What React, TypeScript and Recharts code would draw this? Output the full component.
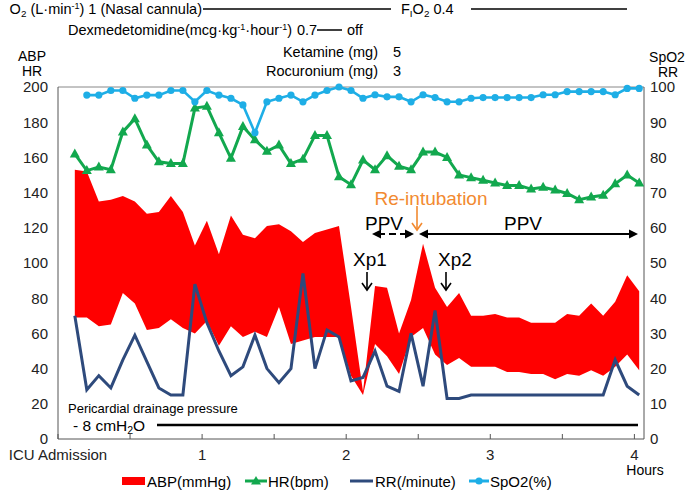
import React from 'react';
import { ComposedChart, Area, Line, XAxis, YAxis, ReferenceLine } from 'recharts';

// minutes after ICU admission, one reading every 5 min
const minutes = [7, 12, 17, 22, 27, 32, 37, 42, 47, 52, 57, 62, 67, 72, 77, 82, 87, 92, 97, 102, 107, 112, 117, 122,
  127, 132, 137, 142, 147, 152, 157, 162, 167, 172, 177, 182, 187, 192, 197, 202, 207, 212, 217, 222, 227, 232, 237, 242];

const abpSys = [153, 152, 135, 136, 138, 135, 128, 129, 138, 129, 110, 124, 105, 127, 116, 114, 121, 122, 118, 112, 117, 119, 121, 75,
  27, 87, 86, 60, 79, 111, 86, 75, 83, 70, 70, 71, 69, 69, 66, 66, 66, 71, 70, 77, 70, 78, 93, 84];
const abpDia = [69, 69, 64, 65, 83, 77, 62, 63, 68, 63, 60, 67, 53, 64, 58, 61, 58, 75, 54, 56, 58, 58, 58, 36,
  25, 54, 47, 37, 58, 63, 48, 42, 46, 41, 41, 41, 38, 38, 37, 37, 34, 37, 36, 39, 36, 41, 48, 39];
const hr = [162, 152.5, 154.5, 153, 174.5, 182, 167, 157.5, 156.5, 156.5, 188, 189, 174, 159.5, 177.5, 170, 163.5, 167, 156.5, 159, 172.5, 172.5, 149, 144.5,
  158.5, 153, 161, 155, 153, 163, 163, 160, 150, 148.5, 147, 145.5, 144, 144, 142, 143, 141.5, 139.5, 136, 137.5, 138.5, 145, 150, 145.5];
const rr = [35, 14, 18, 14.5, 22.5, 29.5, 22, 14.5, 12.5, 12.5, 44, 33, 25, 18, 20.5, 29.5, 20, 16, 20, 47, 20, 31, 29, 16.5,
  17.5, 25, 15, 13.5, 30, 15, 36.5, 11.5, 11.5, 12.5, 12.5, 12.5, 12.5, 12.5, 12.5, 12.5, 12.5, 12.5, 12.5, 12.5, 12.5, 22.5, 15, 12.5];
const spo2 = [null, 97.7, 97.7, 99, 99, 96.8, 97.7, 97.7, 99, 99, 95.8, 99, 97.7, 96.8, 94.9, 87, 95.8, 96.8, 97.7, 95.8, 97.7, 99, 100, 99,
  96.8, 97.8, 97.2, 97.2, 95.8, 97.8, 97, 95.8, 95.8, 96.8, 97, 97, 97, 97, 97, 97.8, 97.8, 98.7, 98.7, 98.7, 98.7, 97.8, 99.6, 99.6];

const leftTicks = [0, 20, 40, 60, 80, 100, 120, 140, 160, 180, 200];
const rightTicks = [0, 10, 20, 30, 40, 50, 60, 70, 80, 90, 100];
const hourTicks = [0, 30, 60, 90, 120, 150, 180, 210, 240];
const hourLabels: Record<number, string> = { 0: 'ICU Admission', 60: '1', 120: '2', 180: '3', 240: '4' };

const data = minutes.map((m, i) => ({
  m,
  abp: [abpDia[i], abpSys[i]],
  hr: hr[i],
  rr: rr[i],
  spo2: spo2[i],
}));

const FONT = '"Liberation Sans", Arial, Helvetica, sans-serif';
const RED = '#FF0000';
const GREEN = '#12A84E';
const NAVY = '#2E4A7C';
const SKY = '#1EAEE6';
const ORANGE = '#F28A30';

const TriDot = (p: any) => {
  const { cx, cy, index } = p;
  if (cx == null || cy == null) return <g key={index} />;
  return <path key={index} d={`M${cx},${cy - 5.5}L${cx + 5},${cy + 3.5}L${cx - 5},${cy + 3.5}Z`} fill={GREEN} />;
};

const CircleDot = (p: any) => {
  const { cx, cy, index } = p;
  if (cx == null || cy == null) return <g key={index} />;
  return <circle key={index} cx={cx} cy={cy} r={3.6} fill={SKY} />;
};

const HourTick = (p: any) => {
  const { x, y, payload } = p;
  const label = hourLabels[payload.value] || '';
  return (
    <text x={x} y={y + 16} textAnchor="middle" fontSize={15} fontFamily={FONT} fill="#222">{label}</text>
  );
};

const T = ({ x, y, size = 14.5, anchor = 'start', color = '#000', children }: any) => {
  const tx = anchor === 'middle' ? '-50%' : anchor === 'end' ? '-100%' : '0';
  return (
    <div style={{
      position: 'absolute', left: x, top: y, transform: `translate(${tx}, -50%)`,
      fontSize: size, lineHeight: 1, whiteSpace: 'nowrap', color, fontFamily: FONT,
    }}>{children}</div>
  );
};

const Sub = ({ children }: any) => <span style={{ fontSize: '0.68em', verticalAlign: '-0.3em', lineHeight: 0 }}>{children}</span>;
const Sup = ({ children }: any) => <span style={{ fontSize: '0.62em', verticalAlign: '0.55em', lineHeight: 0 }}>{children}</span>;

const DownArrow = ({ x, y1, y2, color }: any) => (
  <g stroke={color} strokeWidth={1.6} fill="none">
    <line x1={x} y1={y1} x2={x} y2={y2} />
    <polyline points={`${x - 5},${y2 - 7} ${x},${y2} ${x + 5},${y2 - 7}`} />
  </g>
);

const Head = ({ x, y, dir }: any) => (
  <path d={`M${x},${y}L${x - dir * 9},${y - 4.5}L${x - dir * 9},${y + 4.5}Z`} fill="#000" />
);

export default function App() {
  return (
    <div style={{ position: 'absolute', left: 0, top: 0, width: 685, height: 492, background: '#fff', fontFamily: FONT }}>
      <ComposedChart width={685} height={492} data={data} margin={{ top: 87, right: 0, bottom: 23, left: 0 }}>
        <XAxis dataKey="m" type="number" domain={[0, 244]} ticks={hourTicks} interval={0} height={30}
          tickSize={-5} tickMargin={10} tick={<HourTick />} stroke="#555" allowDataOverflow />
        <YAxis yAxisId="left" domain={[0, 200]} ticks={leftTicks} interval={0} width={58}
          tickLine={false} tickSize={0} tickMargin={10} stroke="#555"
          tick={{ fill: '#222', fontSize: 15, fontFamily: FONT }} />
        <YAxis yAxisId="right" orientation="right" domain={[0, 100]} ticks={rightTicks} interval={0} width={41}
          tickLine={false} tickSize={0} tickMargin={6} stroke="#555"
          tick={{ fill: '#222', fontSize: 15, fontFamily: FONT, textAnchor: 'start' }} />
        <ReferenceLine yAxisId="left" y={200} stroke="#888" strokeWidth={1} />
        <Area yAxisId="left" dataKey="abp" type="linear" stroke="none" fill={RED} fillOpacity={1} isAnimationActive={false} />
        <Line yAxisId="right" dataKey="rr" type="linear" stroke={NAVY} strokeWidth={3} dot={false} isAnimationActive={false} />
        <Line yAxisId="left" dataKey="hr" type="linear" stroke={GREEN} strokeWidth={3} dot={TriDot} isAnimationActive={false} />
        <Line yAxisId="right" dataKey="spo2" type="linear" stroke={SKY} strokeWidth={2.6} dot={CircleDot} isAnimationActive={false} />
      </ComposedChart>

      <svg width={685} height={492} style={{ position: 'absolute', left: 0, top: 0, pointerEvents: 'none' }}>
        {/* top treatment lines */}
        <line x1={203} y1={9} x2={391} y2={9} stroke="#000" strokeWidth={1.5} />
        <line x1={471} y1={9} x2={627} y2={9} stroke="#000" strokeWidth={1.5} />
        <line x1={317} y1={30} x2={342} y2={30} stroke="#000" strokeWidth={1.5} />
        {/* PPV arrows */}
        <line x1={378} y1={234} x2={408} y2={234} stroke="#000" strokeWidth={2} strokeDasharray="7 4" />
        <Head x={372} y={234} dir={-1} />
        <Head x={414} y={234} dir={1} />
        <line x1={425} y1={234} x2={630} y2={234} stroke="#000" strokeWidth={2} />
        <Head x={419} y={234} dir={-1} />
        <Head x={638} y={234} dir={1} />
        {/* X-ray and re-intubation arrows */}
        <DownArrow x={367} y1={272} y2={290} color="#000" />
        <DownArrow x={446} y1={272} y2={290} color="#000" />
        <DownArrow x={417} y1={206} y2={230} color={ORANGE} />
        {/* pericardial drainage */}
        <line x1={157} y1={425} x2={638} y2={425} stroke="#000" strokeWidth={2.5} />
        {/* legend marks */}
        <rect x={122} y={477} width={23} height={8} fill={RED} />
        <line x1={245} y1={481} x2={267} y2={481} stroke={GREEN} strokeWidth={3} />
        <path d="M256,476L261,484.5L251,484.5Z" fill={GREEN} />
        <line x1={350} y1={481} x2={373} y2={481} stroke={NAVY} strokeWidth={3} />
        <line x1={469} y1={481} x2={489} y2={481} stroke={SKY} strokeWidth={3} />
        <circle cx={479} cy={481} r={3.6} fill={SKY} />
      </svg>

      <T x={202} y={9} anchor="end">O<Sub>2</Sub> (L·min<Sup>-1</Sup>) 1 (Nasal cannula)</T>
      <T x={401} y={9}>F<Sub>I</Sub>O<Sub>2</Sub> 0.4</T>
      <T x={292} y={30} anchor="end">Dexmedetomidine(mcg·kg<Sup>-1</Sup>·hour<Sup>-1</Sup>)</T>
      <T x={297} y={30}>0.7</T>
      <T x={347} y={30}>off</T>
      <T x={378} y={52} anchor="end">Ketamine (mg)</T>
      <T x={393} y={52}>5</T>
      <T x={378} y={71} anchor="end">Rocuronium (mg)</T>
      <T x={393} y={71}>3</T>
      <T x={32} y={56} size={14} anchor="middle">ABP</T>
      <T x={32} y={71} size={14} anchor="middle">HR</T>
      <T x={667} y={57} size={14} anchor="middle">SpO2</T>
      <T x={668} y={72} size={14} anchor="middle">RR</T>

      <T x={431} y={198} size={19} anchor="middle" color={ORANGE}>Re-intubation</T>
      <T x={384} y={223} size={19} anchor="middle">PPV</T>
      <T x={523} y={223} size={19} anchor="middle">PPV</T>
      <T x={370} y={259} size={19} anchor="middle">Xp1</T>
      <T x={455} y={259} size={19} anchor="middle">Xp2</T>
      <T x={68} y={408} size={13}>Pericardial drainage pressure</T>
      <T x={73} y={426} size={15.5}>- 8 cmH<Sub>2</Sub>O</T>

      <T x={645} y={470} size={14} anchor="middle">Hours</T>
      <T x={147} y={481} size={15}>ABP(mmHg)</T>
      <T x={268} y={481} size={15}>HR(bpm)</T>
      <T x={375} y={481} size={15}>RR(/minute)</T>
      <T x={490} y={481} size={15}>SpO2(%)</T>
    </div>
  );
}
